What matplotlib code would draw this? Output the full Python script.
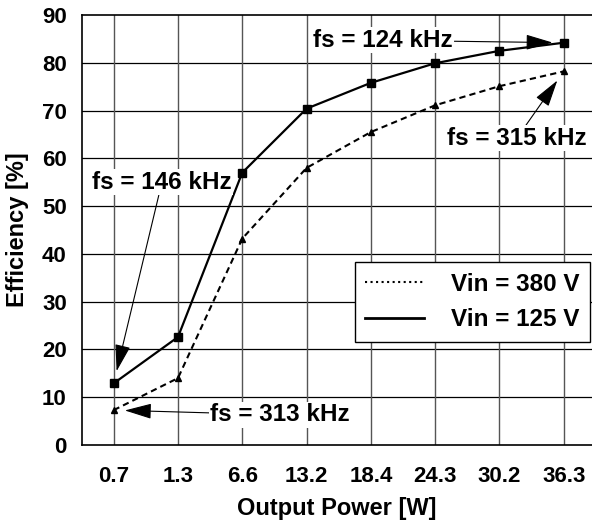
import matplotlib
matplotlib.use("Agg")
import matplotlib.pyplot as plt
from matplotlib.lines import Line2D

plt.rcParams['font.family'] = ['Liberation Sans', 'DejaVu Sans']
plt.rcParams['font.weight'] = 'bold'

# output power categories [W]
powers = ["0.7", "1.3", "6.6", "13.2", "18.4", "24.3", "30.2", "36.3"]
# efficiency [%]
eff_125 = [12.9, 22.6, 57.0, 70.4, 75.8, 79.9, 82.5, 84.2]
eff_380 = [7.3, 14.0, 43.2, 58.0, 65.5, 71.1, 75.1, 78.2]

x = list(range(len(powers)))

fig = plt.figure(figsize=(5.92, 5.25), dpi=100)
ax = fig.add_axes([82/592, 1-445/525, 510/592, 430/525])

ax.plot(x, eff_380, color='black', lw=1.5, ls=(0, (3, 2)), marker='^', ms=5, zorder=3)
ax.plot(x, eff_125, color='black', lw=1.6, ls='-', marker='s', ms=5.5, zorder=3)

ax.set_xlim(-0.493, 7.44)
ax.set_ylim(0, 90)
ax.set_xticks(x)
ax.set_xticklabels(powers)
ax.set_yticks(range(0, 91, 10))
ax.tick_params(length=0, labelsize=16)
ax.tick_params(axis='y', pad=11)
ax.tick_params(axis='x', pad=15)

for v in range(10, 90, 10):
    ax.axhline(v, color='black', lw=0.9, zorder=1)
for xi in x:
    ax.axvline(xi, color='#555555', lw=1.0, zorder=1)

ax.spines['right'].set_visible(False)
for s in ['left', 'top', 'bottom']:
    ax.spines[s].set_linewidth(1.2)

ax.set_xlabel("Output Power [W]", fontsize=17, fontweight='bold', labelpad=7)
ax.set_ylabel("Efficiency [%]", fontsize=17, fontweight='bold', labelpad=9)

box = dict(facecolor='white', edgecolor='none', pad=1)
arrow = dict(arrowstyle='-|>,head_length=1.4,head_width=0.4', color='black',
             lw=0.8, mutation_scale=12, shrinkA=0)

ax.annotate("fs = 124 kHz", xy=(7, eff_125[7]), xytext=(4.19, 84.7),
            fontsize=17.5, fontweight='bold', ha='center', va='center', bbox=box,
            arrowprops=dict(arrow, shrinkB=8), zorder=4)
ax.annotate("fs = 315 kHz", xy=(7, eff_380[7]), xytext=(6.27, 64.2),
            fontsize=17.5, fontweight='bold', ha='center', va='center', bbox=box,
            arrowprops=dict(arrow, shrinkB=8), zorder=4)
ax.annotate("fs = 146 kHz", xy=(0, eff_125[0]), xytext=(0.75, 55.0),
            fontsize=17.5, fontweight='bold', ha='center', va='center', bbox=box,
            arrowprops=dict(arrow, shrinkB=9), zorder=4)
ax.annotate("fs = 313 kHz", xy=(0, eff_380[0]), xytext=(2.59, 6.3),
            fontsize=17.5, fontweight='bold', ha='center', va='center', bbox=box,
            arrowprops=dict(arrow, shrinkB=8), zorder=4)

handles = [Line2D([], [], color='black', lw=1.5, ls=':'),
           Line2D([], [], color='black', lw=2)]
leg = ax.legend(handles, ["Vin = 380 V", "Vin = 125 V"], loc='upper right',
                bbox_to_anchor=(0.996, 0.4256), borderaxespad=0, fontsize=17.5,
                fancybox=False, framealpha=1, edgecolor='black', handlelength=2.4,
                handletextpad=1.1, labelspacing=0.5, borderpad=0.45)
leg.get_frame().set_linewidth(1.0)
leg.set_zorder(5)

fig.savefig("out.png", dpi=100)
